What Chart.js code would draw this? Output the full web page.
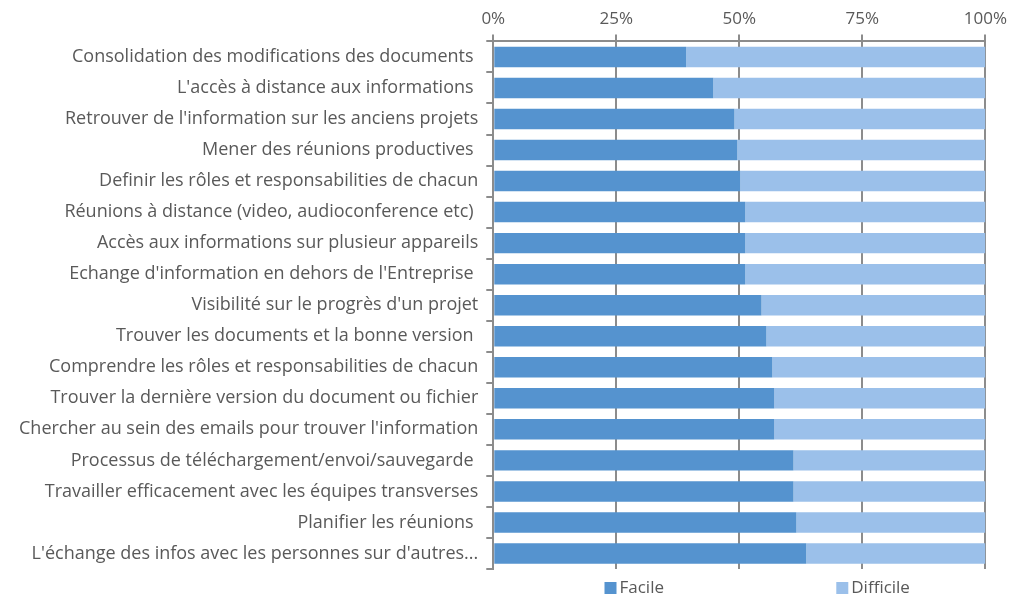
<!DOCTYPE html>
<html lang="fr">
<head>
    <meta charset="UTF-8">
    <title>Facile / Difficile</title>
    <script src="https://cdn.jsdelivr.net/npm/chart.js"></script>
    <style>
        body { margin: 0; background: #fff; }
        #wrap { width: 1012px; height: 596px; }
    </style>
</head>
<body>
    <div id="wrap"><canvas id="myChart"></canvas></div>
    <script>
        // Catégories (de haut en bas)
        const categories = [
            "Consolidation des modifications des documents ",
            "L'accès à distance aux informations ",
            "Retrouver de l'information sur les anciens projets",
            "Mener des réunions productives ",
            "Definir les rôles et responsabilities de chacun",
            "Réunions à distance (video, audioconference etc) ",
            "Accès aux informations sur plusieur appareils",
            "Echange d'information en dehors de l'Entreprise ",
            "Visibilité sur le progrès d'un projet",
            "Trouver les documents et la bonne version ",
            "Comprendre les rôles et responsabilities de chacun",
            "Trouver la dernière version du document ou fichier",
            "Chercher au sein des emails pour trouver l'information",
            "Processus de téléchargement/envoi/sauvegarde ",
            "Travailler efficacement avec les équipes transverses",
            "Planifier les réunions ",
            "L'échange des infos avec les personnes sur d'autres..."
        ];

        // Valeurs en %
        const facile = [39.2, 44.7, 49.0, 49.6, 50.2, 51.2, 51.2, 51.2, 54.5, 55.5, 56.7, 57.1, 57.1, 61.0, 61.0, 61.6, 63.6];
        const difficile = [60.8, 55.3, 51.0, 50.4, 49.8, 48.8, 48.8, 48.8, 45.5, 44.5, 43.3, 42.9, 42.9, 39.0, 39.0, 38.4, 36.4];

        const seriesNames = ["Facile", "Difficile"];
        const xTicks = [0, 25, 50, 75, 100];

        const textColor = '#595959';
        const axisColor = '#8c8c8c';
        const fontFamily = "'Open Sans', 'DejaVu Sans', sans-serif";

        Chart.defaults.font.family = fontFamily;
        Chart.defaults.color = textColor;

        // légende maison, étalée sous la zone du graphique comme dans Excel
        const spreadLegend = {
            id: 'spreadLegend',
            afterDraw(chart) {
                const c = chart.ctx;
                const area = chart.chartArea;
                const y = area.bottom + 19;
                c.save();
                c.font = '17px ' + fontFamily;
                c.textBaseline = 'middle';
                chart.data.datasets.forEach((ds, i) => {
                    const x = area.left + area.width * (0.226 + 0.471 * i);
                    c.fillStyle = ds.backgroundColor;
                    c.fillRect(x, y - 6, 12, 12);
                    c.fillStyle = textColor;
                    c.fillText(ds.label, x + 15, y);
                });
                c.restore();
            }
        };

        const ctx = document.getElementById('myChart').getContext('2d');
        new Chart(ctx, {
            type: 'bar',
            data: {
                labels: categories,
                datasets: [
                    { label: seriesNames[0], data: facile, backgroundColor: '#5593cf', barPercentage: 0.66, categoryPercentage: 1 },
                    { label: seriesNames[1], data: difficile, backgroundColor: '#9bc0ea', barPercentage: 0.66, categoryPercentage: 1 }
                ]
            },
            plugins: [spreadLegend],
            options: {
                indexAxis: 'y',
                responsive: true,
                maintainAspectRatio: false,
                animation: false,
                layout: { padding: { left: 11, right: 5, top: 4, bottom: 27 } },
                scales: {
                    x: {
                        position: 'top',
                        stacked: true,
                        min: 0,
                        max: 100,
                        afterBuildTicks: axis => { axis.ticks = xTicks.map(v => ({ value: v })); },
                        ticks: {
                            callback: v => v + '%',
                            font: { size: 17 },
                            color: textColor,
                            padding: 5
                        },
                        grid: { color: axisColor, lineWidth: 2, tickLength: 7 },
                        border: { color: axisColor, width: 2 }
                    },
                    y: {
                        stacked: true,
                        ticks: { font: { size: 18 }, color: textColor, padding: 8, autoSkip: false },
                        grid: { drawOnChartArea: false, color: axisColor, lineWidth: 2, tickLength: 7 },
                        border: { color: axisColor, width: 2 }
                    }
                },
                plugins: {
                    tooltip: { enabled: false },
                    legend: { display: false }
                }
            }
        });
    </script>
</body>
</html>
